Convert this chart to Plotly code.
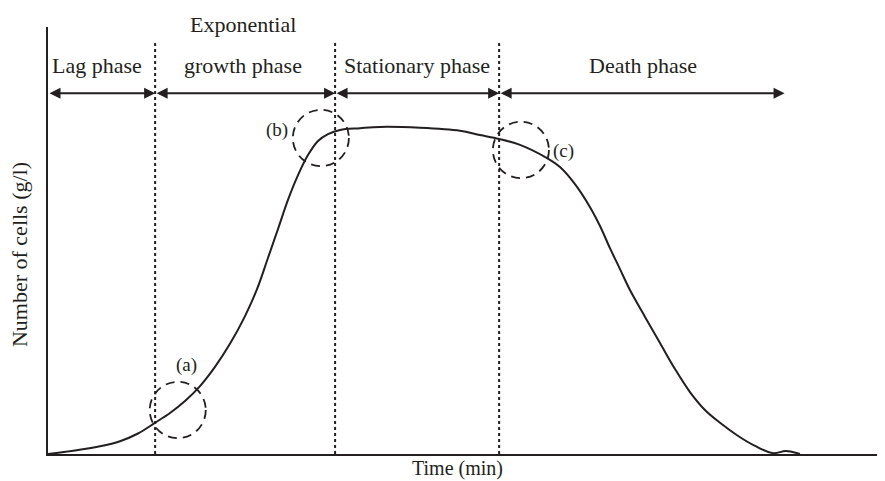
import plotly.graph_objects as go

# ---- data (time in min, cells in g/l; schematic values) ----
time = [0, 3.23, 6.21, 8.60, 10.75, 12.78, 14.58, 16.37, 18.16, 19.95, 21.74, 23.54,
        24.97, 26.28, 27.48, 28.67, 29.87, 31.06, 32.26, 33.45, 34.89, 37.28,
        39.67, 44.44, 49.22, 51.61, 53.88, 56.39, 59.62, 61.17, 62.96, 64.76, 65.95,
        67.14, 68.34, 69.53, 71.33, 73.12, 74.91, 76.70, 78.49, 80.29, 82.32, 84.47,
        86.62, 88.17, 89.84]
cells = [0, 0.08, 0.18, 0.30, 0.48, 0.73, 0.96, 1.24, 1.59, 2.04, 2.58, 3.23,
         3.86, 4.59, 5.27, 5.95, 6.53, 7.00, 7.33, 7.49, 7.59, 7.63,
         7.66, 7.64, 7.57, 7.47, 7.38, 7.24, 6.93, 6.72, 6.32, 5.78, 5.34,
         4.82, 4.33, 3.84, 3.21, 2.60, 1.99, 1.45, 1.03, 0.73, 0.44, 0.19,
         0.02, 0.07, 0.0]

phase_bounds = [0, 12.8, 34.3, 53.9, 88.0]
phase_divider_top = 9.63
arrow_level = 8.45
phase_labels = ["Lag phase", "growth phase", "Stationary phase", "Death phase"]
phase_label_x = [5.9, 23.3, 44.1, 71.1]
phase_label_y = 9.11
extra_label = "Exponential"
extra_label_x = 23.3
extra_label_y_paper = 1.005

circle_names = ["(a)", "(b)", "(c)"]
circle_cx = [15.5, 32.6, 56.5]
circle_cy = [1.03, 7.40, 7.12]
circle_rx = 3.35
circle_ry = 0.66
circle_label_x = [16.6, 27.4, 61.6]
circle_label_y = [2.08, 7.59, 7.10]

x_title = "Time (min)"
y_title = "Number of cells (g/l)"

x_range = [0, 100]
y_range = [0, 10]

FONT = "Liberation Serif, Times New Roman, serif"
INK = "#231f20"

fig = go.Figure()
fig.add_trace(go.Scatter(x=time, y=cells, mode="lines",
                         line=dict(color=INK, width=2, shape="spline", smoothing=1.0),
                         hoverinfo="skip", showlegend=False))

shapes = []
# dotted phase dividers
for b in phase_bounds[1:4]:
    shapes.append(dict(type="line", xref="x", yref="y", x0=b, x1=b, y0=0, y1=phase_divider_top,
                       line=dict(color=INK, width=2, dash="dot")))
# dashed circles
for cx, cy in zip(circle_cx, circle_cy):
    shapes.append(dict(type="circle", xref="x", yref="y",
                       x0=cx - circle_rx, x1=cx + circle_rx,
                       y0=cy - circle_ry, y1=cy + circle_ry,
                       line=dict(color=INK, width=1.8, dash="9px,6px")))

annotations = []
# double-headed phase arrows
for a, b in zip(phase_bounds[:-1], phase_bounds[1:]):
    annotations.append(dict(x=b, y=arrow_level, ax=a, ay=arrow_level,
                            xref="x", yref="y", axref="x", ayref="y",
                            text="", showarrow=True, arrowside="end+start",
                            arrowhead=2, arrowsize=1.1, arrowwidth=2,
                            arrowcolor=INK, standoff=0, startstandoff=0))
for name, px in zip(phase_labels, phase_label_x):
    annotations.append(dict(x=px, y=phase_label_y, xref="x", yref="y", text=name,
                            showarrow=False, font=dict(family=FONT, size=22, color=INK)))
annotations.append(dict(x=extra_label_x, y=extra_label_y_paper, xref="x", yref="paper",
                        yanchor="middle", text=extra_label, showarrow=False,
                        font=dict(family=FONT, size=22, color=INK)))
for name, lx, ly in zip(circle_names, circle_label_x, circle_label_y):
    annotations.append(dict(x=lx, y=ly, xref="x", yref="y", text=name, showarrow=False,
                            font=dict(family=FONT, size=19, color=INK)))
# axis titles
annotations.append(dict(x=48.9, y=-0.033, xref="x", yref="paper", yanchor="middle",
                        text=x_title, showarrow=False,
                        font=dict(family=FONT, size=20, color=INK)))
annotations.append(dict(x=-0.0346, y=4.66, xref="paper", yref="y", xanchor="center",
                        yanchor="middle", text=y_title, textangle=-90, showarrow=False,
                        font=dict(family=FONT, size=22, color=INK)))

fig.update_layout(
    width=885, height=481,
    margin=dict(l=40, r=8, t=19, b=35),
    paper_bgcolor="white", plot_bgcolor="white",
    shapes=shapes, annotations=annotations,
    xaxis=dict(range=x_range, showgrid=False, zeroline=False, showticklabels=False,
               ticks="", showline=True, linecolor=INK, linewidth=2, fixedrange=True),
    yaxis=dict(range=y_range, showgrid=False, zeroline=False, showticklabels=False,
               ticks="", showline=True, linecolor=INK, linewidth=2, fixedrange=True),
    showlegend=False,
)

fig.write_html("out.html")
